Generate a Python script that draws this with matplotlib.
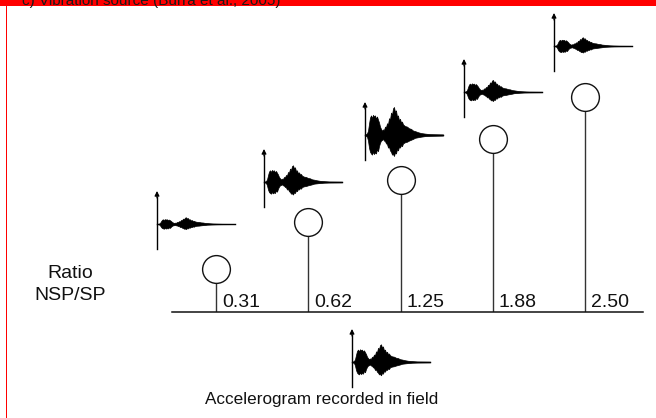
import matplotlib
matplotlib.use("Agg")
import matplotlib.pyplot as plt
from matplotlib.patches import Rectangle
import numpy as np

# ---------------- data ----------------
ratio_labels = ["0.31", "0.62", "1.25", "1.88", "2.50"]
stem_heights = [43, 90, 132, 173, 215]          # schematic stem heights (display units)
glyph_peak = [6.7, 16.7, 28.0, 12.0, 8.7]        # accelerogram peak amplitude per ratio
field_peak = 17.7                                # recorded field accelerogram peak

# normalised accelerogram envelope (shared shape)
env_x = [0, 1, 2, 3, 4, 5, 6, 7, 8, 9, 10, 11, 12, 13, 14, 15, 16, 17, 18, 19,
         20, 21, 22, 23, 24, 25, 26, 27, 28, 29, 30, 31, 32, 33, 34, 35, 36, 37, 38, 40,
         42, 44, 46, 48, 50, 53, 56, 60, 65, 78]
env_up = [0, .03, .06, .15, .4, .62, .7, .6, .72, .66, .7, .58, .66, .55, .45, .3, .22, .15, .2, .18,
          .3, .28, .42, .38, .6, .55, .8, .72, .95, 1.0, .82, .88, .65, .7, .52, .58, .45, .48, .38, .32,
          .3, .24, .22, .16, .14, .1, .07, .05, .03, .02]
env_lo = [0, .03, .06, .2, .45, .6, .66, .7, .6, .68, .62, .66, .5, .58, .4, .28, .2, .18, .14, .2,
          .22, .3, .32, .45, .42, .55, .6, .7, .68, .75, .62, .66, .5, .55, .42, .45, .36, .4, .3, .26,
          .24, .2, .17, .14, .1, .08, .06, .04, .03, .02]

title = "c) Vibration source (Burra et al., 2005)"
ylabel_lines = ["Ratio", "NSP/SP"]
bottom_label = "Accelerogram recorded in field"

# ---------------- layout (pixels) ----------------
W, H = 656, 418
glyph_anchor = [(157, 224), (264, 182), (365, 135), (464, 92), (554, 46)]
field_anchor = (352, 362)

plt.rcParams['font.family'] = ['Liberation Sans', 'DejaVu Sans']

fig = plt.figure(figsize=(W / 100, H / 100), dpi=100)
fig.patch.set_facecolor('white')

# frame decorations
fig.patches.append(Rectangle((0, 1 - 6 / H), 1, 6 / H, transform=fig.transFigure,
                             facecolor='#ff0000', edgecolor='none', zorder=0))
fig.patches.append(Rectangle((5.5 / W, 0), 1.5 / W, 1, transform=fig.transFigure,
                             facecolor='#ff0000', edgecolor='none', zorder=0))
fig.text(22 / W, 1 - 4.5 / H, title, fontsize=11, color='#1a1a1a', va='baseline', ha='left')

# main stem axes: 1 y-unit == 1 px
base_px, left_px, right_px = 312, 172, 643
x0_px, dx_px = 216, 92.25
ax = fig.add_axes([left_px / W, (H - base_px) / H, (right_px - left_px) / W, (base_px - 10) / H])
ax.set_xlim((left_px - x0_px) / dx_px, (right_px - x0_px) / dx_px)
ax.set_ylim(0, base_px - 10)
ax.patch.set_alpha(0)
for s in ['top', 'left', 'right']:
    ax.spines[s].set_visible(False)
ax.spines['bottom'].set_linewidth(1.1)
ax.spines['bottom'].set_color('#111111')
ax.set_xticks([])
ax.set_yticks([])

xs = np.arange(len(ratio_labels))
ax.vlines(xs, 0, stem_heights, color='#333333', lw=1.0, zorder=2)
ax.plot(xs, stem_heights, 'o', ms=20, mfc='white', mec='#111111', mew=1.0, zorder=3, clip_on=False)
for x, lab in zip(xs, ratio_labels):
    ax.annotate(lab, (x, 0), xytext=(4.3, 3.8), textcoords='offset points',
                ha='left', va='baseline', fontsize=14, color='#111111')

# overlay pixel axes for glyphs and labels
ov = fig.add_axes([0, 0, 1, 1])
ov.set_xlim(0, W)
ov.set_ylim(H, 0)
ov.axis('off')
ov.patch.set_alpha(0)


def draw_glyph(axx, anchor, peak):
    gx, gy = anchor
    ex = gx + np.array(env_x, dtype=float)
    up = gy - peak * np.array(env_up)
    lo = gy + peak * np.array(env_lo)
    axx.fill_between(ex, up, lo, color='black', lw=0.5, edgecolor='black')
    axx.plot([gx, gx + env_x[-1]], [gy, gy], color='black', lw=1.0)
    axx.plot([gx, gx], [gy + 25, gy - 27], color='black', lw=1.0)
    axx.annotate('', xy=(gx, gy - 33), xytext=(gx, gy - 26),
                 arrowprops=dict(arrowstyle='-|>', color='black', lw=0.8,
                                 mutation_scale=7, shrinkA=0, shrinkB=0))


for anc, pk in zip(glyph_anchor, glyph_peak):
    draw_glyph(ov, anc, pk)
draw_glyph(ov, field_anchor, field_peak)

ov.text(70, 278, ylabel_lines[0], ha='center', va='baseline', fontsize=14, color='#111111')
ov.text(70, 300, ylabel_lines[1], ha='center', va='baseline', fontsize=14, color='#111111')
ov.text(321.7, 404, bottom_label, ha='center', va='baseline', fontsize=12.3, color='#111111')

fig.savefig('out.png', dpi=100)
